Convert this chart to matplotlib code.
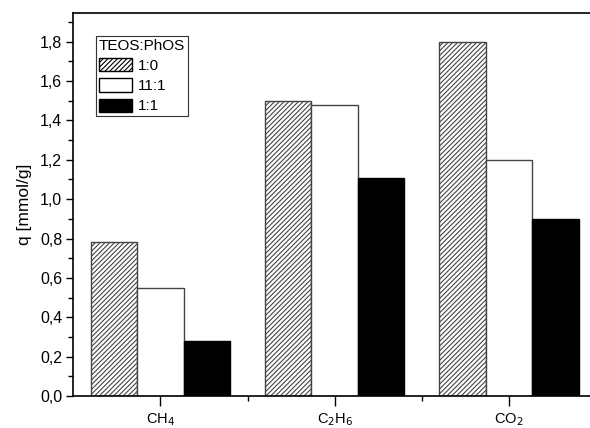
import matplotlib
matplotlib.use("Agg")
import matplotlib.pyplot as plt
import numpy as np
from matplotlib.ticker import MultipleLocator, FuncFormatter, FixedLocator

plt.rcParams['font.family'] = ['Liberation Sans', 'DejaVu Sans']
plt.rcParams['hatch.linewidth'] = 0.8

categories = ['CH$_4$', 'C$_2$H$_6$', 'CO$_2$']
series_names = ['1:0', '11:1', '1:1']
vals_1_0 = [0.78, 1.50, 1.80]
vals_11_1 = [0.55, 1.48, 1.20]
vals_1_1 = [0.28, 1.11, 0.90]

fig = plt.figure(figsize=(5.9, 4.28), dpi=100)
ax = fig.add_axes([0.1242, 0.0748, 0.8863, 0.894])

x = np.arange(len(categories))
w = 0.8 / 3
ax.bar(x - w, vals_1_0, w, facecolor='white', edgecolor='#444444', hatch='///////', linewidth=1.0, label=series_names[0])
ax.bar(x, vals_11_1, w, facecolor='white', edgecolor='#444444', linewidth=1.0, label=series_names[1])
ax.bar(x + w, vals_1_1, w, facecolor='black', edgecolor='black', linewidth=1.0, label=series_names[2])

ax.set_xlim(-0.5, 2.5)
ax.set_ylim(0, 1.944)
ax.set_xticks(x)
ax.set_xticklabels(categories, fontsize=10.5)
ax.xaxis.set_minor_locator(FixedLocator([0.5, 1.5]))
ax.yaxis.set_major_locator(MultipleLocator(0.2))
ax.yaxis.set_minor_locator(MultipleLocator(0.1))
ax.yaxis.set_major_formatter(FuncFormatter(lambda v, p: f"{v:.1f}".replace('.', ',')))
ax.tick_params(axis='y', which='major', direction='out', length=5, width=1, labelsize=11.5, pad=3)
ax.tick_params(axis='x', which='major', direction='out', length=7, width=1, pad=4)
ax.tick_params(axis='both', which='minor', direction='out', length=3.5, width=1)
ax.set_ylabel('q [mmol/g]', fontsize=12.5, labelpad=6)
for s in ax.spines.values():
    s.set_linewidth(1.2)

leg = ax.legend(title='TEOS:PhOS', loc='upper left', bbox_to_anchor=(0.043, 0.9415),
                borderaxespad=0, fontsize=11, title_fontsize=11, alignment='left',
                fancybox=False, framealpha=1, edgecolor='#333333',
                handlelength=2.2, handleheight=0.95, handletextpad=0.35,
                labelspacing=0.35, borderpad=0.2)
leg.get_frame().set_linewidth(0.8)
for h in leg.legend_handles:
    h.set_edgecolor('black')

fig.savefig('out.png', dpi=100)
